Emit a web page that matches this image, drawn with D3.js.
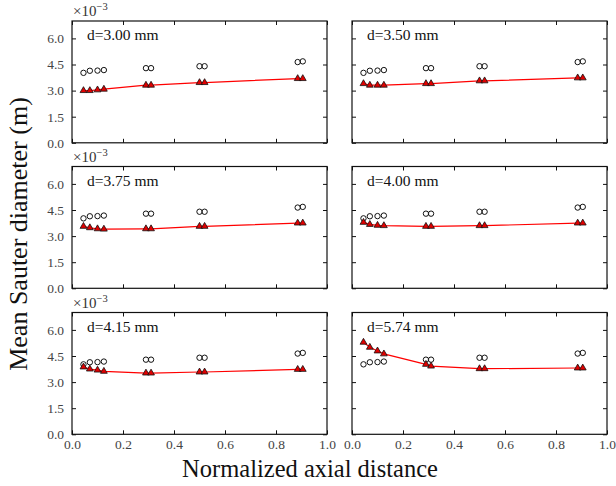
<!DOCTYPE html>
<html>
<head>
<meta charset="utf-8">
<script src="https://cdn.jsdelivr.net/npm/d3@7"></script>
<style>
  body { margin: 0; background: #fff; }
  svg { display: block; font-family: "Liberation Serif", "DejaVu Serif", serif; }
</style>
</head>
<body>
<div class="canvas"></div>
<script>
// axial positions (normalized) shared by every panel
const xPos = [0.045, 0.07, 0.10, 0.125, 0.29, 0.31, 0.50, 0.52, 0.885, 0.905]
// measured Sauter diameter (x1e-3 m), open circles, same in every panel
const measured = [4.02, 4.14, 4.15, 4.18, 4.29, 4.29, 4.40, 4.40, 4.64, 4.68]
// simulated values per nozzle diameter (x1e-3 m)
const labels = ['d=3.00 mm', 'd=3.50 mm', 'd=3.75 mm', 'd=4.00 mm', 'd=4.15 mm', 'd=5.74 mm']
const d300 = [3.00, 3.00, 3.04, 3.08, 3.31, 3.31, 3.46, 3.46, 3.69, 3.69]
const d350 = [3.40, 3.31, 3.31, 3.31, 3.40, 3.40, 3.56, 3.56, 3.73, 3.73]
const d375 = [3.56, 3.48, 3.42, 3.40, 3.42, 3.42, 3.56, 3.56, 3.75, 3.75]
const d400 = [3.79, 3.67, 3.62, 3.60, 3.56, 3.56, 3.60, 3.60, 3.75, 3.75]
const d415 = [3.87, 3.75, 3.69, 3.62, 3.52, 3.52, 3.58, 3.58, 3.73, 3.73]
const d574 = [5.29, 5.00, 4.79, 4.62, 4.02, 3.92, 3.77, 3.77, 3.81, 3.81]
const simulated = [d300, d350, d375, d400, d415, d574]
const yTicks = [0, 1.5, 3.0, 4.5, 6.0]
const xTicks = [0, 0.2, 0.4, 0.6, 0.8, 1.0]

const width = 616, height = 486
const svg = d3.select('.canvas').append('svg').attr('width', width).attr('height', height)

const colLeft = [72, 352]
const rowTop = [21, 166.5, 312.5]
const pw = 255, ph = 121.8

const x = d3.scaleLinear().domain([0, 1]).range([0, pw])
const y = d3.scaleLinear().domain([0, 7]).range([ph, 0])

const tri = d3.symbol().type(d3.symbolTriangle).size(20)

simulated.forEach((sim, i) => {
    const col = i % 2, row = Math.floor(i / 2)
    const g = svg.append('g').attr('transform', `translate(${colLeft[col]}, ${rowTop[row]})`)

    // ticks pointing inwards on all four sides
    const left = g.append('g').call(d3.axisLeft(y).tickValues(yTicks).tickSize(-4).tickPadding(8)
        .tickFormat(col === 0 ? d3.format('.1f') : ''))
    const right = g.append('g').attr('transform', `translate(${pw},0)`)
        .call(d3.axisRight(y).tickValues(yTicks).tickSize(-4).tickFormat(''))
    const bottom = g.append('g').attr('transform', `translate(0,${ph})`)
        .call(d3.axisBottom(x).tickValues(xTicks).tickSize(-4).tickPadding(5)
        .tickFormat(row === 2 ? d3.format('.1f') : ''))
    const top = g.append('g').call(d3.axisTop(x).tickValues(xTicks).tickSize(-4).tickFormat(''))
    ;[left, right, bottom, top].forEach(a => {
        a.select('.domain').remove()
        a.selectAll('line').attr('stroke', '#111')
        a.selectAll('text').attr('font-size', 13.5).attr('fill', '#444')
            .attr('font-family', '"Liberation Serif", serif')
    })

    g.append('rect').attr('width', pw).attr('height', ph)
        .attr('fill', 'none').attr('stroke', '#111').attr('stroke-width', 1.2)

    // offset label
    if (col === 0) {
        const t = g.append('text').attr('x', 1).attr('y', -5).attr('font-size', 15).attr('fill', '#333')
        t.append('tspan').text('\u00d710')
        t.append('tspan').attr('dy', -6).attr('font-size', 10.5).text('\u22123')
    }

    g.append('text').attr('x', 15).attr('y', 19).attr('font-size', 15.5).attr('fill', '#111')
        .text(labels[i])

    const pts = xPos.map((v, k) => ({x: v, m: measured[k], s: sim[k]}))

    g.append('path').datum(pts)
        .attr('fill', 'none').attr('stroke', 'red').attr('stroke-width', 1.2)
        .attr('d', d3.line().x(d => x(d.x)).y(d => y(d.s)))

    g.selectAll('circle').data(pts).enter().append('circle')
        .attr('cx', d => x(d.x)).attr('cy', d => y(d.m)).attr('r', 2.7)
        .attr('fill', 'none').attr('stroke', '#111').attr('stroke-width', 1)

    g.selectAll('.tri').data(pts).enter().append('path').attr('class', 'tri')
        .attr('transform', d => `translate(${x(d.x)},${y(d.s)})`)
        .attr('d', tri).attr('fill', '#e00000').attr('stroke', '#111').attr('stroke-width', 0.8)
})

svg.append('text').attr('x', 310).attr('y', 477).attr('text-anchor', 'middle')
    .attr('font-size', 24.5).attr('fill', '#111').text('Normalized axial distance')

svg.append('text').attr('transform', 'translate(27, 234) rotate(-90)').attr('text-anchor', 'middle')
    .attr('font-size', 26).attr('fill', '#111').text('Mean Sauter diameter (m)')
</script>
</body>
</html>
